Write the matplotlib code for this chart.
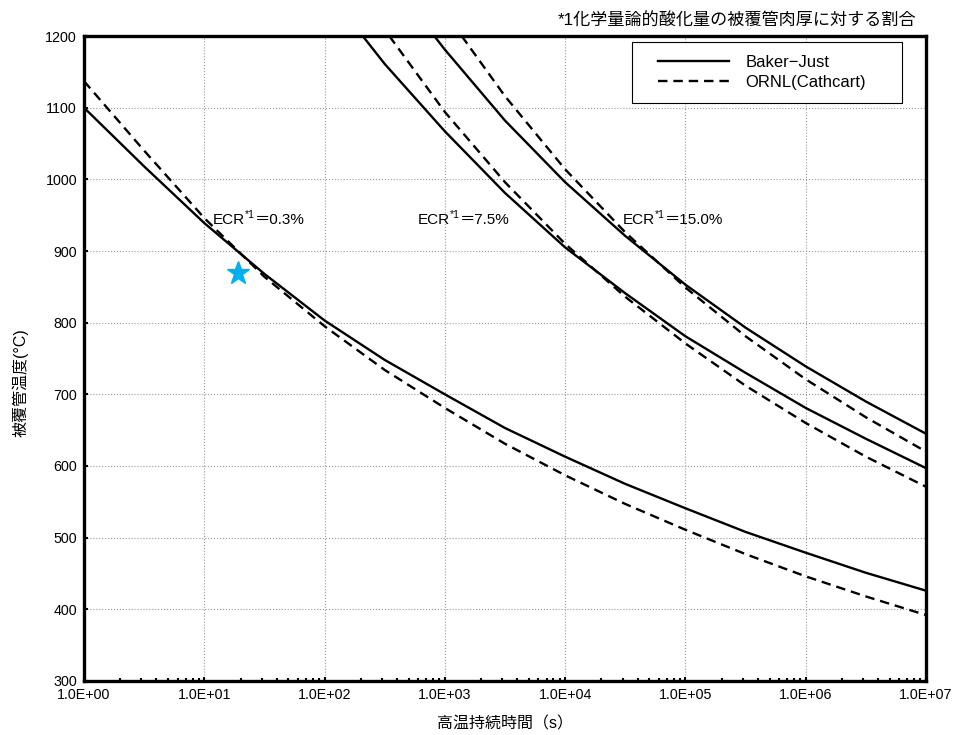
import matplotlib
matplotlib.use('Agg')
import matplotlib.pyplot as plt
from matplotlib.patches import Rectangle
from matplotlib.ticker import FixedLocator, LogLocator, NullFormatter

plt.rcParams['font.family'] = ['Liberation Sans', 'Noto Sans CJK JP', 'DejaVu Sans']

# 高温持続時間 (log10 s) と被覆管温度 (℃)、グラフから読み取り
log_t_a = [0, 0.5, 1, 1.5, 2, 2.5, 3, 3.5, 4, 4.5, 5, 5.5, 6, 6.5, 7]
bj_03 = [1100, 1018, 939, 868, 803, 748, 700, 653, 613, 575, 541, 508, 479, 451, 426]
cc_03 = [1137, 1040, 946, 864, 795, 734, 681, 631, 587, 547, 511, 477, 446, 418, 392]

log_t_bj75 = [2.317, 2.5, 3, 3.5, 4, 4.5, 5, 5.5, 6, 6.5, 7]
bj_75 = [1200, 1161, 1067, 981, 905, 841, 781, 730, 681, 638, 597]
log_t_cc75 = [2.538, 3, 3.5, 4, 4.5, 5, 5.5, 6, 6.5, 7]
cc_75 = [1200, 1094, 996, 910, 836, 771, 712, 660, 613, 571]

log_t_bj15 = [2.912, 3, 3.5, 4, 4.5, 5, 5.5, 6, 6.5, 7]
bj_15 = [1200, 1181, 1082, 996, 921, 853, 793, 739, 690, 645]
log_t_cc15 = [3.14, 3.5, 4, 4.5, 5, 5.5, 6, 6.5, 7]
cc_15 = [1200, 1116, 1014, 926, 849, 781, 721, 668, 620]

star_t = 19
star_temp = 870

ecr_values = ['＝0.3%', '＝7.5%', '＝15.0%']
ecr_x = [11.8, 590, 30000]
ecr_y = [943, 943, 943]

x_ticks = [1e0, 1e1, 1e2, 1e3, 1e4, 1e5, 1e6, 1e7]
x_tick_labels = ['1.0E+00', '1.0E+01', '1.0E+02', '1.0E+03',
                 '1.0E+04', '1.0E+05', '1.0E+06', '1.0E+07']
y_ticks = list(range(300, 1201, 100))


def tt(logs):
    return [10 ** v for v in logs]


fig = plt.figure(figsize=(9.57, 7.35), dpi=100)
ax = fig.add_axes([0.0878, 0.0735, 0.8798, 0.8775])

solid = dict(color='black', lw=1.7, linestyle='-')
dashed = dict(color='black', lw=1.7, linestyle=(0, (4, 2.5)))

ax.plot(tt(log_t_a), bj_03, label='Baker−Just', **solid)
ax.plot(tt(log_t_a), cc_03, label='ORNL(Cathcart)', **dashed)
ax.plot(tt(log_t_bj75), bj_75, **solid)
ax.plot(tt(log_t_cc75), cc_75, **dashed)
ax.plot(tt(log_t_bj15), bj_15, **solid)
ax.plot(tt(log_t_cc15), cc_15, **dashed)

ax.plot([star_t], [star_temp], marker='*', color='#00B0F0', markersize=17,
        linestyle='none')

# ECR*1＝x% ラベル（上付き *1）
for val, xx, yy in zip(ecr_values, ecr_x, ecr_y):
    t1 = ax.text(xx, yy, 'ECR', fontsize=11, va='center', ha='left')
    t2 = ax.annotate('*1', xy=(1, 0.5), xycoords=t1, fontsize=7.5,
                     va='bottom', ha='left')
    ax.annotate(val, xy=(1, 0), xycoords=(t2, t1), fontsize=11,
                va='bottom', ha='left')

ax.set_xscale('log')
ax.set_xlim(1, 1e7)
ax.set_ylim(300, 1200)
ax.xaxis.set_major_locator(FixedLocator(x_ticks))
ax.set_xticklabels(x_tick_labels)
ax.xaxis.set_minor_locator(LogLocator(base=10, subs=range(2, 10), numticks=20))
ax.xaxis.set_minor_formatter(NullFormatter())
ax.set_yticks(y_ticks)

ax.tick_params(axis='both', which='major', direction='in', length=3, width=1.5,
               labelsize=10.3, pad=5)
ax.tick_params(axis='x', which='minor', direction='in', length=2.5, width=1.5)
ax.grid(True, which='major', color='#999999', linestyle=':', linewidth=0.8)

for s in ax.spines.values():
    s.set_linewidth(2.4)

ax.set_xlabel('高温持続時間（s）', fontsize=11.5, labelpad=10)
ax.set_ylabel('被覆管温度(°C)', fontsize=11.5)
ax.yaxis.set_label_coords(-0.066, 0.462)

fig.text(0.957, 0.972, '*1化学量論的酸化量の被覆管肉厚に対する割合',
         fontsize=12.3, ha='right', va='center')

# 凡例（枠は別に描画）
ax.add_patch(Rectangle((0.651, 0.896), 0.3205, 0.0947, transform=ax.transAxes,
                       facecolor='white', edgecolor='black', lw=0.8, zorder=4))
leg = ax.legend(loc='center', bbox_to_anchor=(0.805, 0.943), fontsize=12,
                frameon=False, handlelength=4.25, handletextpad=1.0,
                borderpad=0, labelspacing=0.3, borderaxespad=0)
leg.set_zorder(5)

fig.savefig('out.png', dpi=100)
